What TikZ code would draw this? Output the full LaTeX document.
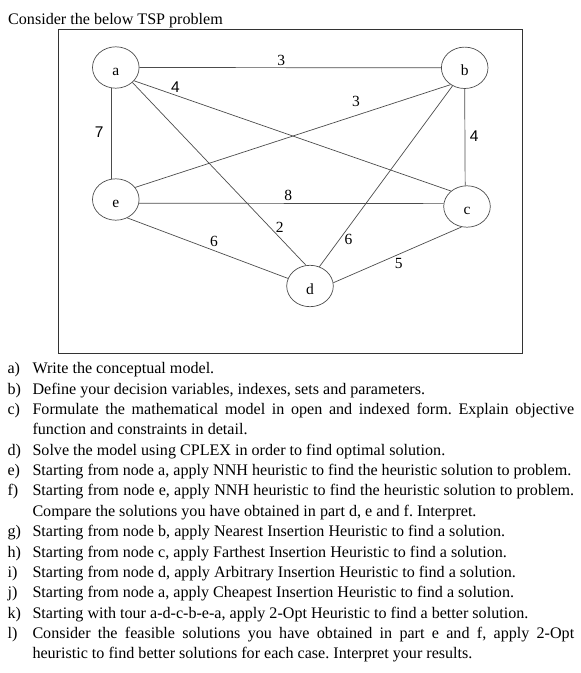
\documentclass[tikz,border=0pt]{standalone}
\usepackage{fontspec}
\setmainfont{Liberation Serif}
\newfontfamily\sansdigits{Liberation Sans}
\usepackage{enumitem}
\usetikzlibrary{shapes.geometric}
\frenchspacing

\begin{document}
\begin{tikzpicture}[x=1pt,y=-1pt,
  city/.style={ellipse,draw=black!70,line width=0.7pt,minimum width=46.6pt,minimum height=41.4pt,
    inner sep=0pt,text height=16pt,text depth=0pt,font=\fontsize{15.5}{18}\selectfont},
  road/.style={draw=black!70,line width=0.7pt},
  cost/.style={inner sep=2pt,font=\fontsize{15.5}{18}\selectfont},
  costsf/.style={inner sep=2pt,font=\fontsize{15.5}{18}\selectfont\sansdigits}]
\useasboundingbox (0,0) rectangle (581,673);
\node[anchor=base west,inner sep=0pt,font=\fontsize{16.1}{20}\selectfont] (title) at (8,24) {Consider the below TSP problem};
% frame round the graph
\draw[black!80,line width=1pt] (58.3,29) rectangle (522.7,353.3);
% cities
\node[city] (a) at (115.8,67.5) {a};
\node[city] (b) at (464.7,67.8) {b};
\node[city] (c) at (467,206.5) {c};
\node[city] (d) at (310,286) {d};
\node[city] (e) at (115.8,199.5) {e};
% roads with costs
\draw[road] (a.0) -- node[cost,above,pos=.47]{3} (b.180);
\draw[road] (a.-101) -- node[costsf,left=6pt,pos=.49]{7} (e.101);
\draw[road] (b.-90) -- node[costsf,right=2.5pt,pos=.49]{4} (c.95);
\draw[road] (a.-36) -- node[costsf,above,pos=.13]{4} (c.136);
\draw[road] (e.32) -- node[cost,above=6pt,pos=.7]{3} (b.-130);
\draw[road] (e.-9) -- node[cost,above,pos=.49]{8} (c.173);
\draw[road] (a.-42) -- node[cost,right=4pt,pos=.79]{2} (d.101);
\draw[road] (b.-124) -- node[cost,right=3pt,pos=.85]{6} (d.64);
\draw[road] (e.-58) -- node[cost,above=2pt,pos=.54]{6} (d.161);
\draw[road] (c.-105) -- node[cost,below=2pt,pos=.49]{5} (d.8);
% questions
\node[anchor=north west,inner sep=0pt,text width=566.6pt,align=justify,
  font=\fontsize{16.1}{20.35}\selectfont] (tasks) at (7.4,353.3) {%
\hyphenpenalty=10000 \exhyphenpenalty=10000 \emergencystretch=6pt
\begin{enumerate}[label=\alph*),leftmargin=24.9pt,labelwidth=20pt,labelsep=4.9pt,align=left,nosep]
\item Write the conceptual model.
\item Define your decision variables, indexes, sets and parameters.
\item Formulate the mathematical model in open and indexed form. Explain objective\linebreak
function and constraints in detail.
\item Solve the model using CPLEX in order to find optimal solution.
\item Starting from node a, apply NNH heuristic to find the heuristic solution to problem.
\item Starting from node e, apply NNH heuristic to find the heuristic solution to problem.\linebreak
Compare the solutions you have obtained in part d, e and f. Interpret.
\item Starting from node b, apply Nearest Insertion Heuristic to find a solution.
\item Starting from node c, apply Farthest Insertion Heuristic to find a solution.
\item Starting from node d, apply Arbitrary Insertion Heuristic to find a solution.
\item Starting from node a, apply Cheapest Insertion Heuristic to find a solution.
\item Starting with tour a-d-c-b-e-a, apply 2-Opt Heuristic to find a better solution.
\item Consider the feasible solutions you have obtained in part e and f, apply 2-Opt\linebreak
heuristic to find better solutions for each case. Interpret your results.
\end{enumerate}};
\end{tikzpicture}
\end{document}
